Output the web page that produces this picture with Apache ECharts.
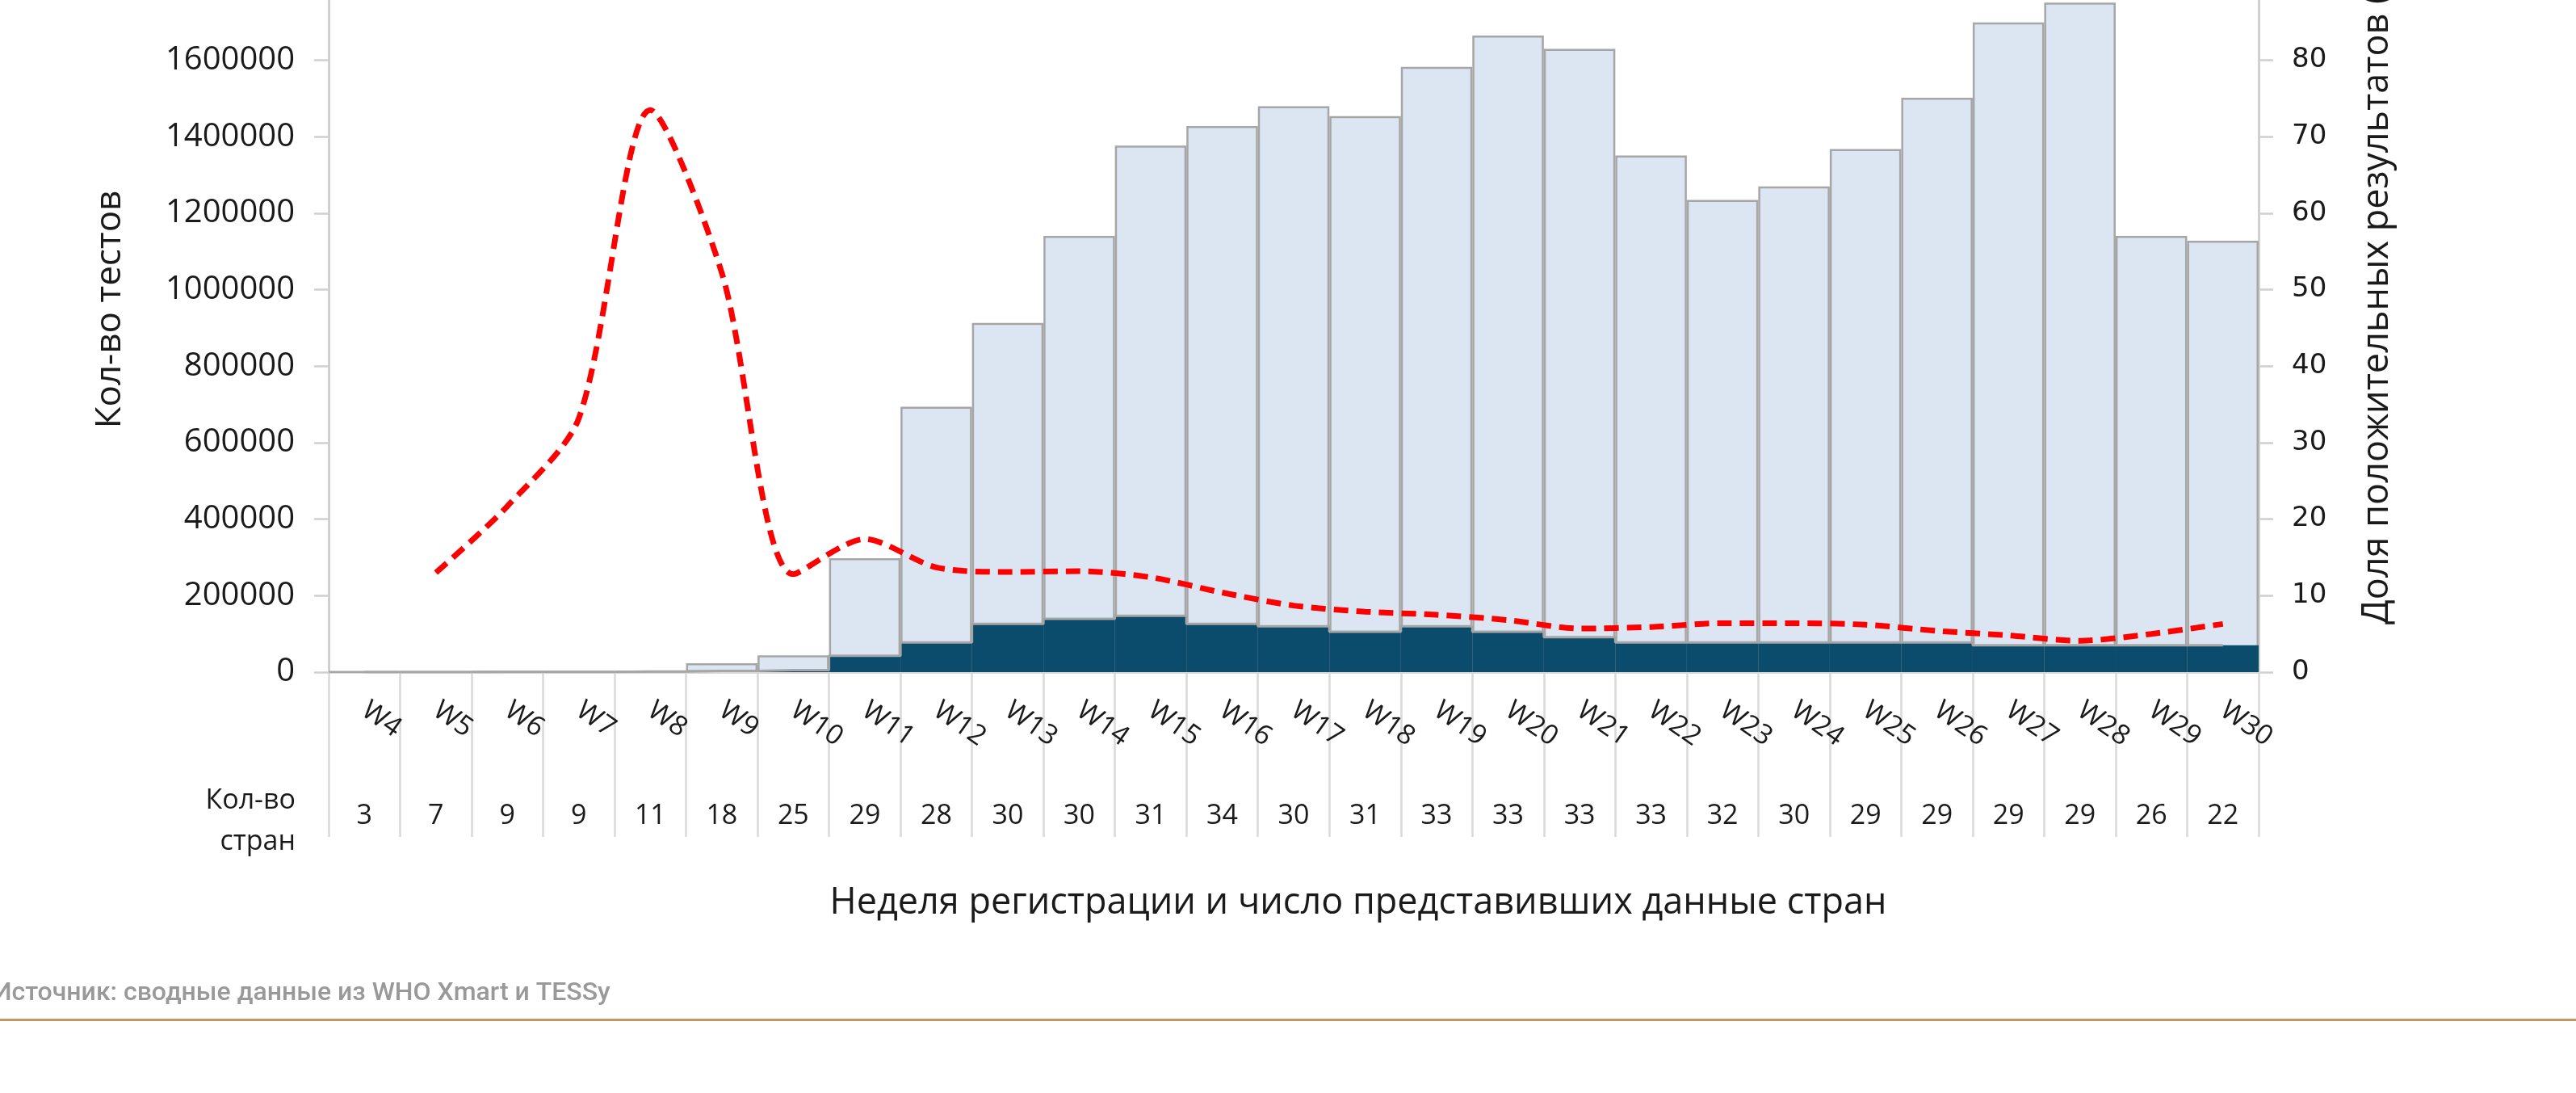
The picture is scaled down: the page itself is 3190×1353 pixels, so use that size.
<!DOCTYPE html>
<html>
<head>
<meta charset="utf-8">
<script src="https://cdn.jsdelivr.net/npm/echarts@6/dist/echarts.min.js"></script>
<style>
html,body{margin:0;padding:0;background:#ffffff;overflow:hidden;width:3190px;height:1353px;position:relative;}
#chart{position:absolute;left:0;top:-20px;width:3190px;height:1373px;}
</style>
</head>
<body>
<div id="chart"></div>
<script>
// ---- data ----
const weeks = ['W4','W5','W6','W7','W8','W9','W10','W11','W12','W13','W14','W15','W16','W17','W18','W19','W20','W21','W22','W23','W24','W25','W26','W27','W28','W29','W30'];
const countries = [3,7,9,9,11,18,25,29,28,30,30,31,34,30,31,33,33,33,33,32,30,29,29,29,29,26,22];
const totalTests = [1000,1500,2000,2500,3500,23000,44000,298000,694000,913000,1141000,1377000,1428000,1480000,1454000,1583000,1665000,1630000,1351000,1235000,1270000,1368000,1502000,1699000,1751000,1141000,1128000];
const positiveTests = [0,200,400,700,1500,3000,5500,43000,77500,126000,139400,147200,126000,119700,105600,119700,105600,91500,77500,77500,77500,77500,77500,70300,70300,70300,70300];
const positivityPct = [null,13.0,21.7,33.2,73.5,52.2,12.8,17.4,13.7,13.1,13.2,12.4,10.4,8.7,7.9,7.5,6.8,5.7,5.9,6.4,6.4,6.2,5.4,4.8,4.1,5.0,6.3];

const leftAxisTitle = 'Кол-во тестов';
const rightAxisTitle = 'Доля положительных результатов (%)';
const xAxisTitle = 'Неделя регистрации и число представивших данные стран';
const countRowTitle = 'Кол-во\nстран';
const sourceText = 'Источник: сводные данные из WHO Xmart и TESSy';

const chart = echarts.init(document.getElementById('chart'), null, {renderer: 'canvas'});

const textColor = '#1a1a1a';
const axisGray = '#d0d0d0';
const OFF = 20; // the chart canvas starts 20px above the page

chart.setOption({
  animation: false,
  backgroundColor: '#ffffff',
  grid: {left: 407, right: 393, top: 0, bottom: 521, containLabel: false},
  xAxis: [
    {
      type: 'category',
      data: weeks,
      position: 'bottom',
      boundaryGap: true,
      axisLine: {show: true, lineStyle: {color: '#d9d9d9', width: 3}},
      axisTick: {show: true, length: 204, lineStyle: {color: '#d9d9d9', width: 2.5}},
      axisLabel: {interval: 0, rotate: -35, margin: 44, fontFamily: 'Open Sans', fontSize: 34, color: textColor},
      splitLine: {show: false}
    },
    {
      type: 'category',
      data: weeks,
      position: 'bottom',
      boundaryGap: true,
      axisLine: {show: false},
      axisTick: {show: false},
      axisLabel: {
        interval: 0, margin: 178, verticalAlign: 'middle',
        fontFamily: 'Open Sans', fontSize: 34, color: textColor,
        formatter: function (v, i) { return String(countries[i]); }
      },
      splitLine: {show: false}
    }
  ],
  yAxis: [
    {
      type: 'value',
      min: 0, max: 1800000, interval: 200000,
      axisLine: {show: true, lineStyle: {color: axisGray, width: 3}},
      axisTick: {show: true, length: 18, lineStyle: {color: axisGray, width: 2.5}},
      axisLabel: {margin: 42, fontFamily: 'Open Sans', fontSize: 40, color: textColor, showMaxLabel: false,
                  formatter: function (v) { return String(v); }},
      splitLine: {show: false}
    },
    {
      type: 'value',
      position: 'right',
      min: 0, max: 90, interval: 10,
      axisLine: {show: true, lineStyle: {color: axisGray, width: 3}},
      axisTick: {show: true, length: 18, lineStyle: {color: axisGray, width: 2.5}},
      axisLabel: {margin: 41, fontFamily: 'DejaVu Sans', fontSize: 34, color: textColor, showMaxLabel: false},
      splitLine: {show: false}
    }
  ],
  series: [
    {
      name: 'Всего тестов',
      type: 'bar',
      xAxisIndex: 0, yAxisIndex: 0,
      data: totalTests,
      barCategoryGap: '0%',
      barGap: '-100%',
      itemStyle: {color: '#dce6f2', borderColor: '#a6a6a6', borderWidth: 2.5},
      z: 2
    },
    {
      name: 'Положительные',
      type: 'bar',
      xAxisIndex: 0, yAxisIndex: 0,
      data: positiveTests,
      barGap: '-100%',
      itemStyle: {color: '#0b4b6b', borderWidth: 0},
      z: 3
    },
    {
      name: 'Граница',
      type: 'line',
      xAxisIndex: 0, yAxisIndex: 0,
      data: positiveTests,
      step: 'middle',
      symbol: 'none',
      silent: true,
      lineStyle: {color: '#a6a6a6', width: 3},
      z: 4
    },
    {
      name: 'Доля положительных результатов (%)',
      type: 'line',
      xAxisIndex: 0, yAxisIndex: 1,
      data: positivityPct,
      smooth: 0.28,
      symbol: 'none',
      connectNulls: false,
      lineStyle: {color: '#ff0000', width: 7, type: [18, 10], cap: 'butt'},
      z: 5
    }
  ],
  graphic: [
    {
      type: 'text', x: 136, y: 383 + OFF, rotation: Math.PI / 2,
      style: {text: leftAxisTitle, fontFamily: 'Open Sans', fontSize: 44, fill: textColor,
              align: 'center', verticalAlign: 'middle', textAlign: 'center', textVerticalAlign: 'middle'}
    },
    {
      type: 'text', x: 2944, y: 773 + OFF, rotation: Math.PI / 2,
      style: {text: rightAxisTitle, fontFamily: 'Open Sans', fontSize: 45, fill: textColor,
              align: 'left', verticalAlign: 'middle', textAlign: 'left', textVerticalAlign: 'middle'}
    },
    {
      type: 'text', x: 366, y: 1017 + OFF,
      style: {text: countRowTitle, fontFamily: 'Open Sans', fontSize: 34, lineHeight: 51, fill: textColor,
              align: 'right', verticalAlign: 'middle', textAlign: 'right', textVerticalAlign: 'middle'}
    },
    {
      type: 'text', x: 1682, y: 1118 + OFF,
      style: {text: xAxisTitle, fontFamily: 'Open Sans', fontSize: 45, fill: textColor,
              align: 'center', verticalAlign: 'middle', textAlign: 'center', textVerticalAlign: 'middle'}
    },
    {
      type: 'text', x: -8, y: 1230 + OFF,
      style: {text: sourceText, fontFamily: 'Roboto', fontSize: 32, fontWeight: 500, fill: '#999999',
              align: 'left', verticalAlign: 'middle', textAlign: 'left', textVerticalAlign: 'middle'}
    },
    {
      type: 'rect', shape: {x: 0, y: 1261 + OFF, width: 3190, height: 3},
      style: {fill: '#c49462'}
    }
  ]
});
</script>
</body>
</html>
